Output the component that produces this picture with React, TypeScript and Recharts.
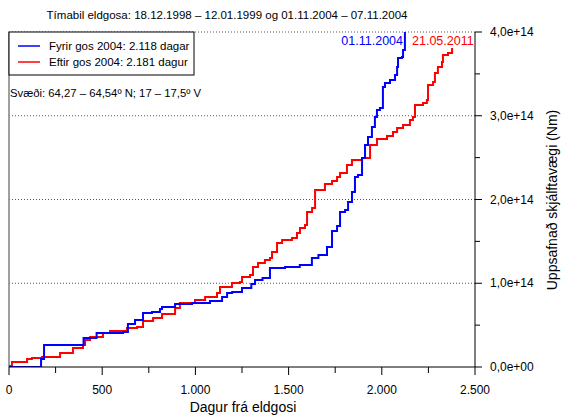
import React from "react";
import { LineChart, Line, XAxis, YAxis, ReferenceLine } from "recharts";

// Uppsafnað skjálftavægi, gildi í einingum 1e14 Nm
const blueDays = [
  0, 172, 188, 400, 470, 612, 638, 676, 719, 767, 810, 821, 891, 982, 1078,
  1143, 1170, 1197, 1250, 1300, 1320, 1360, 1400, 1481, 1560, 1625, 1660, 1706,
  1733, 1760, 1776, 1803, 1819, 1840, 1856, 1872, 1894, 1910, 1926, 1947, 1963,
  1974, 1990, 2006, 2017, 2044, 2071, 2082, 2087, 2108, 2114, 2124,
];
const blueValues = [
  0, 0.096, 0.263, 0.346, 0.406, 0.418, 0.513, 0.561, 0.645, 0.657, 0.693,
  0.716, 0.752, 0.764, 0.788, 0.836, 0.884, 0.896, 0.943, 0.991, 1.039, 1.063,
  1.182, 1.194, 1.218, 1.301, 1.337, 1.433, 1.624, 1.684, 1.851, 1.875, 1.97,
  2.09, 2.269, 2.293, 2.496, 2.651, 2.746, 2.866, 2.985, 3.069, 3.093, 3.343,
  3.391, 3.427, 3.487, 3.582, 3.69, 3.702, 3.785, 4.0,
];

const redDays = [
  0, 16, 97, 123, 177, 274, 343, 397, 408, 435, 504, 542, 633, 687, 719, 773,
  821, 891, 917, 998, 1052, 1116, 1132, 1196, 1239, 1250, 1293, 1309, 1336,
  1373, 1400, 1411, 1438, 1465, 1518, 1545, 1561, 1588, 1599, 1626, 1642, 1695,
  1733, 1760, 1776, 1813, 1840, 1894, 1937, 1974, 2028, 2060, 2082, 2114, 2151,
  2167, 2178, 2221, 2242, 2248, 2275, 2285, 2301, 2323, 2328, 2355, 2377,
];
const redValues = [
  0.012, 0.06, 0.096, 0.107, 0.119, 0.167, 0.227, 0.263, 0.322, 0.358, 0.406,
  0.43, 0.466, 0.478, 0.549, 0.585, 0.633, 0.704, 0.764, 0.8, 0.836, 0.884,
  0.955, 1.003, 1.015, 1.075, 1.099, 1.194, 1.242, 1.278, 1.301, 1.373, 1.481,
  1.516, 1.54, 1.6, 1.66, 1.696, 1.851, 1.899, 2.113, 2.185, 2.221, 2.269,
  2.316, 2.412, 2.472, 2.496, 2.651, 2.722, 2.758, 2.806, 2.854, 2.89, 2.949,
  2.985, 3.128, 3.152, 3.188, 3.367, 3.403, 3.51, 3.582, 3.642, 3.725, 3.749,
  3.809,
];

const xTicks = [0, 250, 500, 750, 1000, 1250, 1500, 1750, 2000, 2250, 2500];
const yTicks = [0, 0.5, 1, 1.5, 2, 2.5, 3, 3.5, 4];
const gridLines = [1, 2, 3, 4];

const blueData = blueDays.map((d, i) => ({ day: d, moment: blueValues[i] }));
const redData = redDays.map((d, i) => ({ day: d, moment: redValues[i] }));

const FONT = "'Liberation Sans', Arial, sans-serif";

const fmtX = (v: number) =>
  v >= 1000
    ? `${Math.floor(v / 1000)}.${String(v % 1000).padStart(3, "0")}`
    : String(v);

const fmtY = (v: number) =>
  v === 0 ? "0,0e+00" : `${v.toFixed(1).replace(".", ",")}e+14`;

const XTick = (props: any) => {
  const { x, y, payload } = props;
  const major = payload.value % 500 === 0;
  return (
    <g>
      <line x1={x} x2={x} y1={y} y2={y + (major ? 8 : 6)} stroke="#000" />
      {major && (
        <text
          x={x}
          y={y + 27}
          textAnchor="middle"
          fontSize={12}
          fontFamily={FONT}
          fill="#000"
        >
          {fmtX(payload.value)}
        </text>
      )}
    </g>
  );
};

const YTick = (props: any) => {
  const { x, y, payload } = props;
  const major = payload.value % 1 === 0;
  return (
    <g>
      <line x1={x} x2={x + (major ? 7 : 5)} y1={y} y2={y} stroke="#000" />
      {major && (
        <text
          x={x + 15}
          y={y + 4}
          textAnchor="start"
          fontSize={12}
          fontFamily={FONT}
          fill="#000"
        >
          {fmtY(payload.value)}
        </text>
      )}
    </g>
  );
};

export default function App() {
  return (
    <div
      style={{
        position: "absolute",
        left: 0,
        top: 0,
        width: 563,
        height: 417,
        background: "#fff",
        fontFamily: FONT,
      }}
    >
      <LineChart
        width={563}
        height={417}
        margin={{ top: 32, right: 0, bottom: 0, left: 9 }}
      >
        <XAxis
          dataKey="day"
          type="number"
          domain={[0, 2500]}
          ticks={xTicks}
          interval={0}
          tickSize={0}
          tickMargin={0}
          tick={<XTick />}
          height={50}
          stroke="#000"
          allowDuplicatedCategory={false}
        />
        <YAxis
          orientation="right"
          type="number"
          domain={[0, 4]}
          ticks={yTicks}
          interval={0}
          tickSize={0}
          tickMargin={0}
          tick={<YTick />}
          width={88}
          stroke="#000"
          allowDataOverflow
        />
        {gridLines.map((g) => (
          <ReferenceLine
            key={g}
            y={g}
            stroke="#555"
            strokeDasharray="1 2"
            strokeWidth={1}
          />
        ))}
        <ReferenceLine x={0} stroke="#808080" strokeWidth={1.5} />
        <Line
          data={redData}
          dataKey="moment"
          type="stepAfter"
          stroke="#ff0000"
          strokeWidth={2}
          dot={false}
          isAnimationActive={false}
        />
        <Line
          data={blueData}
          dataKey="moment"
          type="stepAfter"
          stroke="#0000ff"
          strokeWidth={2}
          dot={false}
          isAnimationActive={false}
        />
      </LineChart>
      <svg
        width={563}
        height={417}
        style={{ position: "absolute", left: 0, top: 0, pointerEvents: "none" }}
        fontFamily={FONT}
      >
        <text x={227} y={19} textAnchor="middle" fontSize={11.5} fill="#000">
          Tímabil eldgosa: 18.12.1998 – 12.01.1999 og 01.11.2004 – 07.11.2004
        </text>
        <rect x={9} y={32} width={185} height={43} fill="#fff" stroke="#000" />
        <line x1={18} x2={40} y1={46} y2={46} stroke="#0000ff" strokeWidth={1.5} />
        <text x={49} y={50} fontSize={11.5} fill="#000">
          Fyrir gos 2004: 2.118 dagar
        </text>
        <line x1={18} x2={40} y1={62} y2={62} stroke="#ff0000" strokeWidth={1.5} />
        <text x={49} y={66} fontSize={11.5} fill="#000">
          Eftir gos 2004: 2.181 dagur
        </text>
        <text x={10} y={97} fontSize={11.3} fill="#000">
          Svæði: 64,27 – 64,54º N; 17 – 17,5º V
        </text>
        <text x={403} y={45} textAnchor="end" fontSize={12.5} fill="#0000ff">
          01.11.2004
        </text>
        <text x={412} y={45} fontSize={12.5} fill="#ff0000">
          21.05.2011
        </text>
        <text x={243} y={412} textAnchor="middle" fontSize={14} fill="#000">
          Dagur frá eldgosi
        </text>
        <text
          x={557}
          y={200}
          textAnchor="middle"
          fontSize={14}
          fill="#000"
          transform="rotate(-90 557 200)"
        >
          Uppsafnað skjálftavægi (Nm)
        </text>
      </svg>
    </div>
  );
}
